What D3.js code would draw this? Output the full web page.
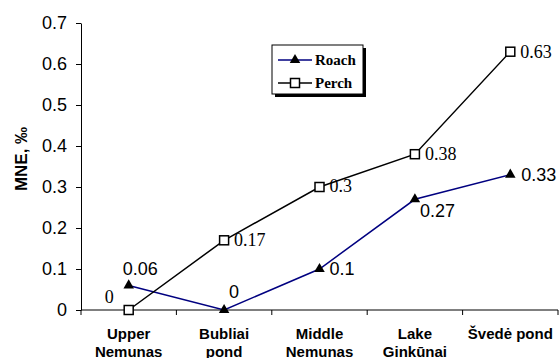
<!DOCTYPE html>
<html>
<head>
<meta charset="UTF-8">
<script src="https://d3js.org/d3.v7.min.js"></script>
<style>
  body { margin: 0; background: #fff; }
  svg { display: block; }
</style>
</head>
<body>
<div id="chart"></div>
<script>
// data
const sites = [["Upper", "Nemunas"], ["Bubliai", "pond"], ["Middle", "Nemunas"], ["Lake", "Ginkūnai"], ["Švedė pond"]];
const roach = [0.06, 0, 0.1, 0.27, 0.33];
const perch = [0, 0.17, 0.3, 0.38, 0.63];
const yTicks = [0, 0.1, 0.2, 0.3, 0.4, 0.5, 0.6, 0.7];

const W = 560, H = 358;
const plotLeft = 81, plotRight = 558, plotTop = 23, plotBottom = 310;
const SANS = "Arial, Liberation Sans, sans-serif";
const SERIF = "Times New Roman, Liberation Serif, serif";

const svg = d3.select("#chart").append("svg").attr("width", W).attr("height", H);

const x = d3.scaleBand().domain(d3.range(sites.length)).range([plotLeft, plotRight]);
const y = d3.scaleLinear().domain([0, 0.7]).range([plotBottom, plotTop]);

// y axis
const yAxis = svg.append("g")
  .attr("transform", `translate(${plotLeft},0)`)
  .call(d3.axisLeft(y).tickValues(yTicks).tickFormat(d => String(+d.toFixed(1)))
    .tickSize(5).tickSizeOuter(0).tickPadding(9));
yAxis.selectAll("text").attr("font-family", SANS).attr("font-size", 18).attr("fill", "#000");
yAxis.selectAll("line, path").attr("stroke", "#000");

// x axis: ticks between categories
const xg = svg.append("g");
xg.append("line").attr("x1", plotLeft).attr("x2", plotRight).attr("y1", plotBottom).attr("y2", plotBottom).attr("stroke", "#000");
d3.range(sites.length + 1).forEach(i => {
  const xx = i < sites.length ? x(i) : x.range()[1];
  xg.append("line").attr("x1", xx).attr("x2", xx).attr("y1", plotBottom).attr("y2", plotBottom + 5).attr("stroke", "#000");
});
sites.forEach((lines, i) => {
  const t = xg.append("text")
    .attr("x", x(i) + x.bandwidth() / 2)
    .attr("y", 339)
    .attr("text-anchor", "middle")
    .attr("font-family", SANS)
    .attr("font-weight", "bold")
    .attr("font-size", 15);
  lines.forEach((l, j) => t.append("tspan").attr("x", x(i) + x.bandwidth() / 2).attr("dy", j ? 18 : 0).text(l));
});

// y title
svg.append("text")
  .attr("transform", `translate(27,159) rotate(-90)`)
  .attr("text-anchor", "middle")
  .attr("font-family", SANS)
  .attr("font-weight", "bold")
  .attr("font-size", 17)
  .text("MNE, ‰");

const cx = i => x(i) + x.bandwidth() / 2;
const line = d3.line().x((d, i) => cx(i)).y(d => y(d));

// series lines
svg.append("path").datum(roach).attr("d", line).attr("fill", "none").attr("stroke", "#000080").attr("stroke-width", 1.5);
svg.append("path").datum(perch).attr("d", line).attr("fill", "none").attr("stroke", "#000").attr("stroke-width", 1.5);

const tri = d3.symbol().type(d3.symbolTriangle).size(48);

// roach markers
svg.selectAll(".roach").data(roach).enter().append("path")
  .attr("transform", (d, i) => `translate(${cx(i)},${y(d)})`)
  .attr("d", tri).attr("fill", "#000");

// perch markers
svg.selectAll(".perch").data(perch).enter().append("rect")
  .attr("x", (d, i) => cx(i) - 4.5).attr("y", d => y(d) - 4.5)
  .attr("width", 9).attr("height", 9)
  .attr("fill", "#fff").attr("stroke", "#000").attr("stroke-width", 1.5);

// data labels (offset of the text from its point)
const roachOff = [[-6, -10], [5, -12], [10, 6], [5, 18], [11, 6]];
const perchOff = [[-24, -7], [10, 6], [10, 5], [10, 6], [10, 6]];
svg.selectAll(".rl").data(roach).enter().append("text")
  .attr("x", (d, i) => cx(i) + roachOff[i][0])
  .attr("y", (d, i) => y(d) + roachOff[i][1])
  .attr("font-family", SANS)
  .attr("font-size", 18).attr("fill", "#000")
  .text(d => d);
svg.selectAll(".pl").data(perch).enter().append("text")
  .attr("x", (d, i) => cx(i) + perchOff[i][0])
  .attr("y", (d, i) => y(d) + perchOff[i][1])
  .attr("font-family", SERIF)
  .attr("font-size", 18).attr("fill", "#000")
  .text(d => d);

// legend
const lg = svg.append("g").attr("transform", "translate(272,45)");
lg.append("rect").attr("x", 3).attr("y", 3).attr("width", 91).attr("height", 49).attr("fill", "#000");
lg.append("rect").attr("x", 0).attr("y", 0).attr("width", 91).attr("height", 49).attr("fill", "#fff").attr("stroke", "#000");
lg.append("line").attr("x1", 6).attr("x2", 40).attr("y1", 15).attr("y2", 15).attr("stroke", "#000080").attr("stroke-width", 1.5);
lg.append("path").attr("transform", "translate(23,15)").attr("d", tri).attr("fill", "#000");
lg.append("line").attr("x1", 6).attr("x2", 40).attr("y1", 38).attr("y2", 38).attr("stroke", "#000").attr("stroke-width", 1.5);
lg.append("rect").attr("x", 18.5).attr("y", 33.5).attr("width", 9).attr("height", 9).attr("fill", "#fff").attr("stroke", "#000").attr("stroke-width", 1.5);
lg.append("text").attr("x", 43).attr("y", 20).text("Roach")
  .attr("font-family", SERIF).attr("font-weight", "bold").attr("font-size", 15);
lg.append("text").attr("x", 43).attr("y", 43).text("Perch")
  .attr("font-family", SERIF).attr("font-weight", "bold").attr("font-size", 15);
</script>
</body>
</html>
